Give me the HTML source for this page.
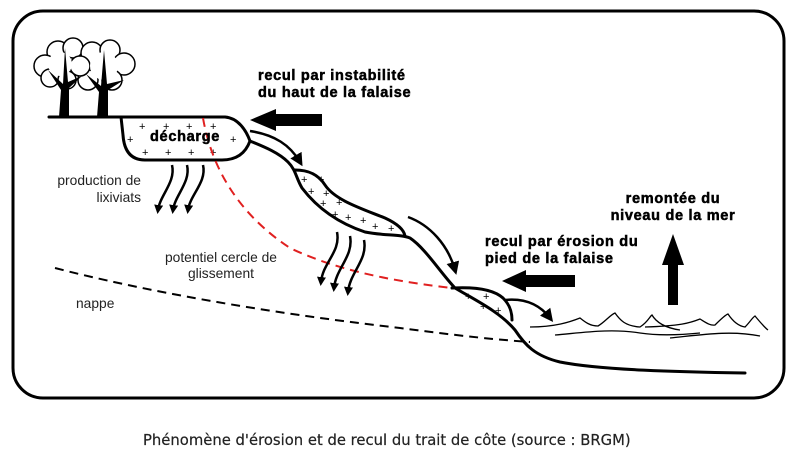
<!DOCTYPE html>
<html><head><meta charset="utf-8"><style>
html,body{margin:0;padding:0;background:#fff;width:793px;height:461px;overflow:hidden}
svg{display:block}
.b{font-family:"Liberation Sans",Arial,sans-serif;font-weight:bold;font-size:14.5px;letter-spacing:0.7px;fill:#000;stroke:#000;stroke-width:0.5}
.n{font-family:"Liberation Sans",Arial,sans-serif;font-size:13.8px;fill:#222}
</style></head><body>
<svg width="793" height="461" viewBox="0 0 793 461" xmlns="http://www.w3.org/2000/svg">
<defs>
<marker id="ah" markerWidth="9" markerHeight="9" refX="5" refY="4.5" orient="auto" markerUnits="userSpaceOnUse">
<path d="M0,0 L9,4.5 L0,9 z" fill="#000"/></marker>
<marker id="ah2" markerWidth="13" markerHeight="13" refX="8" refY="6.5" orient="auto" markerUnits="userSpaceOnUse">
<path d="M0,0 L13,6.5 L0,13 z" fill="#000"/></marker>
</defs>
<rect x="13" y="11" width="771" height="387" rx="30" fill="none" stroke="#000" stroke-width="3"/>
<!-- trees -->
<g fill="#fff" stroke="#000" stroke-width="1.5">
<circle cx="58" cy="52" r="11"/><circle cx="45" cy="66" r="11"/><circle cx="73" cy="48" r="10"/><circle cx="50" cy="78" r="9"/><circle cx="67" cy="80" r="9"/>
<circle cx="92" cy="53" r="11"/><circle cx="110" cy="50" r="10"/><circle cx="124" cy="64" r="11"/><circle cx="88" cy="80" r="10"/><circle cx="112" cy="80" r="10"/><circle cx="80" cy="66" r="10"/>
</g>
<g fill="#fff"><circle cx="60" cy="64" r="12"/><circle cx="104" cy="66" r="14"/></g>
<g fill="#000">
<path d="M59,117 L69,117 L69,88 L82,76 L68,82 L65,48 L63,84 L48,70 L61,90 z"/>
<path d="M97,117 L108,117 L108,90 L124,80 L107,84 L104,50 L101,86 L86,74 L99,92 z"/>
</g>
<!-- ground & décharge -->
<g fill="none" stroke="#000" stroke-width="3" stroke-linejoin="round" stroke-linecap="round">
<path d="M49,117 L225,117 C238,118 246,130 250,141 C246,152 238,160 222,160 L145,160 C130,160 124,150 123,135 L121,117"/>
<path d="M250,141 C262,146 278,152 288,162 C296,170 296,178 302,188 C315,205 335,222 365,232 C385,236 400,234 410,238 C425,248 440,272 455,288 C475,300 500,312 515,330 C525,345 535,356 560,362 C600,370 680,372 745,373"/>
<path d="M295,170 C308,170 318,174 325,185 C335,200 360,208 385,218 C398,224 404,230 405,236"/>
<path d="M452,288 C470,287 492,288 503,298 C510,305 512,312 512,320"/>
</g>
<g font-size="11" font-family="Liberation Sans" fill="#000">
<text x="139" y="130">+</text><text x="163" y="130">+</text><text x="186" y="130">+</text><text x="210" y="130">+</text>
<text x="127" y="143">+</text><text x="230" y="143">+</text>
<text x="142" y="156">+</text><text x="165" y="156">+</text><text x="188" y="156">+</text><text x="210" y="156">+</text>
<text x="301" y="183">+</text><text x="318" y="183">+</text><text x="308" y="195">+</text><text x="323" y="197">+</text><text x="320" y="207">+</text><text x="336" y="206">+</text><text x="332" y="218">+</text><text x="345" y="221">+</text><text x="360" y="224">+</text><text x="372" y="230">+</text><text x="388" y="232">+</text>
<text x="465" y="300">+</text><text x="483" y="300">+</text><text x="480" y="310">+</text><text x="495" y="314">+</text>
</g>
<!-- dashed lines -->
<path d="M203,118 C212,170 240,215 290,248 C340,272 400,282 452,288" fill="none" stroke="#e02020" stroke-width="2" stroke-dasharray="9,6"/>
<path d="M55,268 C140,290 260,312 400,328 C460,336 500,340 530,342" fill="none" stroke="#000" stroke-width="2" stroke-dasharray="9,6"/>
<!-- big arrows -->
<path d="M322,114 L276,114 L276,109 L250,120 L276,131 L276,126 L322,126 z" fill="#000"/>
<path d="M575,275 L526,275 L526,270 L502,281 L526,292 L526,287 L575,287 z" fill="#000"/>
<path d="M668,305 L678,305 L678,265 L684,265 L673,234 L662,265 L668,265 z" fill="#000"/>
<!-- curved arrows -->
<g fill="none" stroke="#000" stroke-width="2.5">
<path d="M250,131 C275,135 290,145 300,162" marker-end="url(#ah2)"/>
<path d="M408,217 C430,225 448,245 455,270" marker-end="url(#ah2)"/>
<path d="M505,300 C525,298 540,305 550,318" marker-end="url(#ah2)"/>
<path d="M172,165 C176,182 160,195 158,210" marker-end="url(#ah)"/>
<path d="M187,165 C191,182 175,195 173,210" marker-end="url(#ah)"/>
<path d="M203,165 C207,182 190,195 188,210" marker-end="url(#ah)"/>
<path d="M337,232 C341,252 323,262 321,282" marker-end="url(#ah)"/>
<path d="M350,236 C354,256 336,268 334,288" marker-end="url(#ah)"/>
<path d="M364,240 C368,260 350,272 348,292" marker-end="url(#ah)"/>
</g>
<!-- waves -->
<g fill="none" stroke="#000" stroke-width="1.3">
<path d="M530,327 C555,327 570,322 580,318 C585,322 590,326 598,326 C605,322 610,315 615,313 C620,320 625,326 640,327 C648,322 650,316 652,315 C656,322 665,328 680,330"/>
<path d="M555,335 C580,333 610,328 640,333 C660,336 680,335 700,333"/>
<path d="M645,327 C680,326 690,323 700,319 C705,322 710,326 715,325 C720,320 725,315 728,314 C732,320 738,326 745,327 C750,322 752,318 755,316 C760,322 765,328 768,330"/>
<path d="M670,338 C700,335 730,330 760,336"/>
</g>
<!-- text -->
<text class="b" x="258" y="80">recul par instabilité</text>
<text class="b" x="258" y="97">du haut de la falaise</text>
<text class="b" x="150" y="141" font-size="14.5" letter-spacing="0.3">décharge</text>
<text class="n" x="141" y="185" text-anchor="end">production de</text>
<text class="n" x="141" y="202" text-anchor="end">lixiviats</text>
<text class="n" x="165" y="262">potentiel cercle de</text>
<text class="n" x="188" y="278">glissement</text>
<text class="n" x="76" y="308">nappe</text>
<text class="b" x="485" y="246">recul par érosion du</text>
<text class="b" x="485" y="263">pied de la falaise</text>
<text class="b" x="673" y="203" text-anchor="middle">remontée du</text>
<text class="b" x="673" y="220" text-anchor="middle">niveau de la mer</text>
<text x="143" y="445" font-family="'DejaVu Sans','Liberation Sans',sans-serif" font-size="14.8" fill="#222" stroke="#222" stroke-width="0.2">Phénomène d'érosion et de recul du trait de côte (source : BRGM)</text>
</svg>
</body></html>
